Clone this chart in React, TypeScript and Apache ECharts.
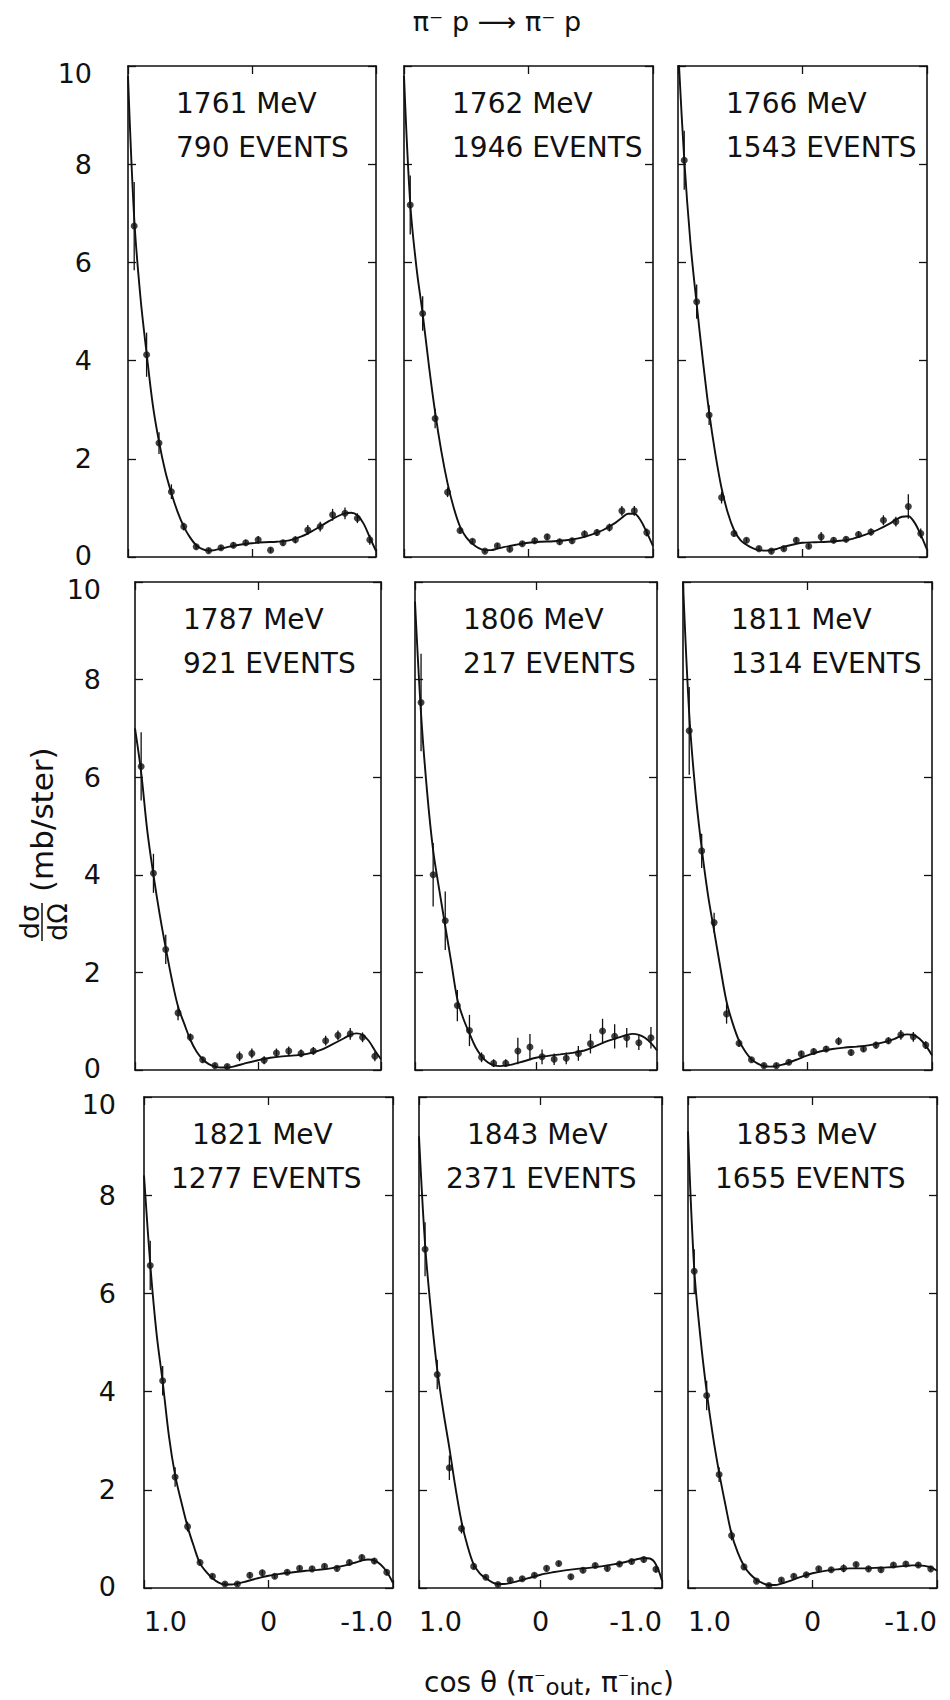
import React, { useEffect, useRef } from "react";
import * as echarts from "echarts";

// ---------- data ----------
const ENERGIES = ["1761", "1762", "1766", "1787", "1806", "1811", "1821", "1843", "1853"];
const EVENTS = ["790", "1946", "1543", "921", "217", "1314", "1277", "2371", "1655"];

// cos(theta) bin centres of the measured points
const COS_BINS = [0.95, 0.85, 0.75, 0.65, 0.55, 0.45, 0.35, 0.25, 0.15, 0.05, -0.05, -0.15, -0.25, -0.35, -0.45, -0.55, -0.65, -0.75, -0.85, -0.95];
// cos(theta) positions where the fitted curve was read
const FIT_X = [1.0, 0.95, 0.9, 0.85, 0.8, 0.75, 0.7, 0.65, 0.6, 0.55, 0.5, 0.45, 0.4, 0.35, 0.3, 0.25, 0.2, 0.1, 0, -0.1, -0.2, -0.3, -0.4, -0.5, -0.6, -0.7, -0.75, -0.8, -0.85, -0.9, -0.95, -1.0];

const X_MIN = -1;
const X_MAX = 1;
const X_STEP = 1;
const Y_MIN = 0;
const Y_MAX = 10;
const Y_STEP = 2;

const P1761 = [6.74, 4.12, 2.32, 1.33, 0.62, 0.21, 0.13, 0.19, 0.24, 0.29, 0.35, 0.14, 0.29, 0.35, 0.55, 0.62, 0.86, 0.89, 0.79, 0.35];
const E1761 = [0.9, 0.45, 0.22, 0.15, 0.08, 0.05, 0.05, 0.05, 0.06, 0.06, 0.08, 0.05, 0.06, 0.07, 0.1, 0.1, 0.12, 0.12, 0.1, 0.1];
const F1761 = [9.8, 6.9, 5.3, 4.15, 3.1, 2.35, 1.75, 1.3, 0.92, 0.62, 0.4, 0.24, 0.16, 0.13, 0.14, 0.17, 0.2, 0.25, 0.28, 0.3, 0.31, 0.34, 0.42, 0.55, 0.7, 0.84, 0.89, 0.9, 0.85, 0.68, 0.4, 0.12];

const P1762 = [7.17, 4.96, 2.82, 1.32, 0.54, 0.32, 0.12, 0.23, 0.16, 0.27, 0.33, 0.41, 0.31, 0.33, 0.47, 0.5, 0.6, 0.94, 0.94, 0.5];
const E1762 = [0.6, 0.35, 0.2, 0.1, 0.06, 0.05, 0.04, 0.05, 0.05, 0.05, 0.06, 0.06, 0.06, 0.06, 0.07, 0.07, 0.08, 0.1, 0.1, 0.08];
const F1762 = [9.8, 7.2, 5.9, 4.95, 3.9, 2.95, 2.15, 1.5, 1.0, 0.62, 0.4, 0.27, 0.18, 0.14, 0.14, 0.17, 0.2, 0.25, 0.29, 0.31, 0.32, 0.34, 0.38, 0.45, 0.55, 0.7, 0.8, 0.88, 0.88, 0.75, 0.5, 0.22];

const P1766 = [8.08, 5.2, 2.89, 1.21, 0.48, 0.34, 0.17, 0.12, 0.17, 0.34, 0.22, 0.41, 0.34, 0.36, 0.46, 0.51, 0.75, 0.72, 1.03, 0.48];
const E1766 = [0.6, 0.35, 0.2, 0.12, 0.06, 0.05, 0.05, 0.05, 0.05, 0.06, 0.05, 0.1, 0.06, 0.06, 0.07, 0.07, 0.1, 0.1, 0.25, 0.1];
const F1766 = [10.4, 8.1, 6.4, 5.15, 4.0, 2.95, 2.1, 1.4, 0.9, 0.55, 0.35, 0.25, 0.18, 0.14, 0.13, 0.14, 0.17, 0.24, 0.29, 0.3, 0.31, 0.33, 0.37, 0.45, 0.55, 0.68, 0.76, 0.82, 0.83, 0.7, 0.45, 0.15];

const P1787 = [6.22, 4.03, 2.47, 1.17, 0.67, 0.21, 0.09, 0.07, 0.28, 0.34, 0.2, 0.35, 0.39, 0.34, 0.39, 0.6, 0.71, 0.74, 0.67, 0.28];
const E1787 = [0.7, 0.4, 0.3, 0.15, 0.08, 0.06, 0.05, 0.05, 0.1, 0.1, 0.08, 0.09, 0.09, 0.08, 0.08, 0.1, 0.1, 0.12, 0.1, 0.1];
const F1787 = [7.0, 6.1, 4.9, 4.0, 3.2, 2.5, 1.85, 1.3, 0.95, 0.62, 0.38, 0.22, 0.12, 0.07, 0.05, 0.05, 0.07, 0.14, 0.2, 0.25, 0.28, 0.3, 0.33, 0.4, 0.52, 0.65, 0.72, 0.75, 0.72, 0.6, 0.4, 0.22];

const P1806 = [7.53, 4.0, 3.06, 1.32, 0.81, 0.26, 0.14, 0.14, 0.39, 0.47, 0.27, 0.22, 0.24, 0.34, 0.54, 0.8, 0.69, 0.66, 0.56, 0.66];
const E1806 = [1.0, 0.65, 0.6, 0.32, 0.32, 0.1, 0.08, 0.08, 0.27, 0.27, 0.15, 0.12, 0.12, 0.15, 0.2, 0.25, 0.25, 0.2, 0.15, 0.22];
const F1806 = [9.6, 7.3, 5.7, 4.5, 3.7, 2.95, 2.2, 1.45, 1.05, 0.75, 0.47, 0.28, 0.16, 0.1, 0.08, 0.09, 0.11, 0.18, 0.25, 0.29, 0.32, 0.35, 0.4, 0.5, 0.6, 0.68, 0.72, 0.74, 0.72, 0.66, 0.55, 0.4];

const P1811 = [6.95, 4.49, 3.02, 1.15, 0.55, 0.21, 0.09, 0.09, 0.16, 0.33, 0.38, 0.43, 0.59, 0.36, 0.43, 0.51, 0.6, 0.72, 0.68, 0.51];
const E1811 = [0.9, 0.35, 0.2, 0.2, 0.08, 0.05, 0.05, 0.05, 0.05, 0.06, 0.06, 0.06, 0.08, 0.06, 0.06, 0.07, 0.07, 0.1, 0.1, 0.08];
const F1811 = [10.0, 7.3, 5.7, 4.55, 3.6, 2.85, 2.1, 1.4, 0.95, 0.6, 0.38, 0.22, 0.13, 0.08, 0.07, 0.08, 0.11, 0.2, 0.3, 0.38, 0.43, 0.46, 0.48, 0.51, 0.56, 0.64, 0.7, 0.73, 0.72, 0.64, 0.5, 0.3];

const P1821 = [6.57, 4.22, 2.26, 1.25, 0.52, 0.24, 0.08, 0.08, 0.26, 0.31, 0.24, 0.32, 0.4, 0.39, 0.44, 0.4, 0.52, 0.62, 0.55, 0.32];
const E1821 = [0.5, 0.3, 0.2, 0.1, 0.06, 0.05, 0.04, 0.04, 0.06, 0.06, 0.05, 0.05, 0.05, 0.05, 0.05, 0.05, 0.06, 0.06, 0.06, 0.06];
const F1821 = [8.4, 6.6, 5.2, 4.2, 3.1, 2.3, 1.75, 1.25, 0.85, 0.5, 0.33, 0.2, 0.11, 0.07, 0.07, 0.09, 0.12, 0.19, 0.25, 0.29, 0.32, 0.35, 0.37, 0.4, 0.45, 0.52, 0.56, 0.58, 0.56, 0.48, 0.33, 0.1];

const P1843 = [6.9, 4.35, 2.45, 1.21, 0.44, 0.22, 0.07, 0.16, 0.19, 0.26, 0.4, 0.5, 0.23, 0.36, 0.46, 0.4, 0.49, 0.54, 0.58, 0.38];
const E1843 = [0.55, 0.3, 0.25, 0.1, 0.06, 0.04, 0.04, 0.04, 0.05, 0.05, 0.05, 0.05, 0.05, 0.05, 0.05, 0.05, 0.05, 0.05, 0.06, 0.06];
const F1843 = [9.2, 7.0, 5.6, 4.45, 3.6, 2.85, 2.05, 1.35, 0.85, 0.48, 0.3, 0.2, 0.12, 0.08, 0.08, 0.1, 0.13, 0.2, 0.27, 0.32, 0.36, 0.39, 0.41, 0.44, 0.48, 0.53, 0.56, 0.59, 0.61, 0.6, 0.48, 0.15];

const P1853 = [6.45, 3.92, 2.31, 1.07, 0.43, 0.14, 0.05, 0.16, 0.24, 0.27, 0.39, 0.37, 0.4, 0.48, 0.39, 0.37, 0.47, 0.49, 0.47, 0.39];
const E1853 = [0.45, 0.3, 0.15, 0.1, 0.06, 0.04, 0.04, 0.04, 0.05, 0.05, 0.05, 0.05, 0.08, 0.05, 0.05, 0.05, 0.05, 0.05, 0.05, 0.05];
const F1853 = [9.3, 6.5, 5.1, 4.0, 3.1, 2.35, 1.7, 1.1, 0.72, 0.45, 0.28, 0.17, 0.1, 0.06, 0.06, 0.09, 0.13, 0.22, 0.3, 0.35, 0.38, 0.4, 0.4, 0.41, 0.42, 0.44, 0.45, 0.46, 0.46, 0.45, 0.42, 0.35];

const POINTS = [P1761, P1762, P1766, P1787, P1806, P1811, P1821, P1843, P1853];
const ERRORS = [E1761, E1762, E1766, E1787, E1806, E1811, E1821, E1843, E1853];
const FITS = [F1761, F1762, F1766, F1787, F1806, F1811, F1821, F1843, F1853];

// ---------- layout (pixels) ----------
// [left, right, top, bottom] of each panel frame
const BOXES: number[][] = [
  [128, 376, 66, 557], [404, 653, 66, 557], [678, 927, 66, 557],
  [135, 381, 582, 1070], [415, 657, 582, 1070], [683, 932, 582, 1070],
  [144, 393, 1097, 1588], [419, 662, 1097, 1588], [688, 937, 1097, 1588],
];
const Y_LABEL_MARGIN = [36, 34, 28];

const FONT = "DejaVu Sans";
const INK = "#111";

function xLabel(v: number) {
  if (v === 1) return "1.0";
  if (v === 0) return "0";
  return "-1.0";
}

function yLabel(v: number) {
  if (v === Y_MAX) return "{t|" + v + "}";
  if (v === Y_MIN) return "{z|" + v + "}";
  return "{m|" + v + "}";
}

function buildOption() {
  const grid: any[] = [];
  const xAxis: any[] = [];
  const yAxis: any[] = [];
  const series: any[] = [];
  const elements: any[] = [];

  const axisLine = { show: true, onZero: false, lineStyle: { color: INK, width: 1.6 } };
  const axisTick = { show: true, inside: true, length: 8, lineStyle: { color: INK, width: 1.3 } };
  const lbl = { fontFamily: FONT, fontSize: 27, color: INK };

  ENERGIES.forEach((energy, i) => {
    const [l, r, t, b] = BOXES[i];
    const row = Math.floor(i / 3);
    const col = i % 3;
    grid.push({ left: l, top: t, width: r - l, height: b - t });

    const xBase = {
      type: "value", gridIndex: i, min: X_MIN, max: X_MAX, interval: X_STEP, inverse: true,
      axisLine, axisTick, splitLine: { show: false },
    };
    xAxis.push({
      ...xBase, position: "bottom",
      axisLabel: row === 2
        ? {
            show: true, formatter: xLabel, fontFamily: FONT, fontSize: 27, color: INK, margin: 20,
            showMinLabel: true, showMaxLabel: true, alignMaxLabel: "left", alignMinLabel: "right",
          }
        : { show: false },
    });
    xAxis.push({ ...xBase, position: "top", axisLabel: { show: false } });

    const yBase = {
      type: "value", gridIndex: i, min: Y_MIN, max: Y_MAX, interval: Y_STEP,
      axisLine, axisTick, splitLine: { show: false },
    };
    yAxis.push({
      ...yBase, position: "left",
      axisLabel: col === 0
        ? {
            show: true, ...lbl, margin: Y_LABEL_MARGIN[row], showMinLabel: true, showMaxLabel: true,
            formatter: yLabel,
            rich: {
              t: { ...lbl, padding: [14, 0, 0, 0] },
              z: { ...lbl, padding: [0, 0, 4, 0] },
              m: { ...lbl },
            },
          }
        : { show: false },
    });
    yAxis.push({ ...yBase, position: "right", axisLabel: { show: false } });

    const fit = FITS[i].map((y, k) => [FIT_X[k], y]);
    const pts = POINTS[i].map((y, k) => [COS_BINS[k], y, ERRORS[i][k]]);

    series.push({
      type: "line", name: energy + " fit", xAxisIndex: 2 * i, yAxisIndex: 2 * i,
      data: fit, smooth: 0.35, showSymbol: false, symbol: "none", clip: true,
      lineStyle: { color: INK, width: 1.9 }, z: 2,
    });
    series.push({
      type: "custom", name: energy + " errors", xAxisIndex: 2 * i, yAxisIndex: 2 * i,
      data: pts, encode: { x: 0, y: 1 }, z: 3,
      renderItem: (params: any, api: any) => {
        const x = api.value(0);
        const y = api.value(1);
        const e = api.value(2);
        const p1 = api.coord([x, y + e]);
        const p2 = api.coord([x, Math.max(0, y - e)]);
        return {
          type: "line",
          shape: { x1: p1[0], y1: p1[1], x2: p2[0], y2: p2[1] },
          style: { stroke: INK, lineWidth: 1.3 },
        };
      },
    });
    series.push({
      type: "scatter", name: energy + " data", xAxisIndex: 2 * i, yAxisIndex: 2 * i,
      data: pts.map((p) => [p[0], p[1]]), symbol: "circle", symbolSize: 7,
      itemStyle: { color: INK }, z: 4,
    });

    // panel labels
    const tx1 = l + 48;
    const tx2 = row === 2 ? l + 27 : l + 48;
    elements.push({
      type: "text", x: tx1, y: t + 37,
      style: { text: energy + " MeV", fontFamily: FONT, fontSize: 28, fill: INK, textAlign: "left", textVerticalAlign: "middle", align: "left", verticalAlign: "middle" },
    });
    elements.push({
      type: "text", x: tx2, y: t + 81,
      style: { text: EVENTS[i] + " EVENTS", fontFamily: FONT, fontSize: 28, fill: INK, textAlign: "left", textVerticalAlign: "middle", align: "left", verticalAlign: "middle" },
    });
  });

  // reaction title
  elements.push({
    type: "text", x: 497, y: 21,
    style: { text: "π⁻ p ⟶ π⁻ p", fontFamily: FONT, fontSize: 27, fill: INK, textAlign: "center", textVerticalAlign: "middle", align: "center", verticalAlign: "middle" },
  });

  // y-axis name (rotated)
  elements.push({
    type: "group", x: 42, y: 840, rotation: Math.PI / 2,
    children: [
      { type: "text", x: -82, y: -13, style: { text: "dσ", fontFamily: FONT, fontSize: 27, fill: INK, textAlign: "center", textVerticalAlign: "middle", align: "center", verticalAlign: "middle" } },
      { type: "line", shape: { x1: -101, y1: 0, x2: -63, y2: 0 }, style: { stroke: INK, lineWidth: 1.5 } },
      { type: "text", x: -82, y: 15, style: { text: "dΩ", fontFamily: FONT, fontSize: 27, fill: INK, textAlign: "center", textVerticalAlign: "middle", align: "center", verticalAlign: "middle" } },
      { type: "text", x: -52, y: 0, style: { text: "(mb/ster)", fontFamily: FONT, fontSize: 31, fill: INK, textAlign: "left", textVerticalAlign: "middle", align: "left", verticalAlign: "middle" } },
    ],
  });

  // x-axis name
  elements.push({
    type: "text", x: 549, y: 1683,
    style: {
      text: "{n|cos θ (π}{s|⁻}{b|out}{n|, π}{s|⁻}{b|inc}{n|)}",
      fontFamily: FONT, fill: INK, textAlign: "center", textVerticalAlign: "middle", align: "center", verticalAlign: "middle",
      rich: {
        n: { fontFamily: FONT, fontSize: 28, lineHeight: 30, verticalAlign: "top", fill: INK },
        s: { fontFamily: FONT, fontSize: 22, lineHeight: 30, verticalAlign: "top", fill: INK },
        b: { fontFamily: FONT, fontSize: 23, lineHeight: 23, padding: [16, 0, 0, 0], verticalAlign: "bottom", fill: INK },
      },
    },
  });

  return {
    animation: false,
    backgroundColor: "#ffffff",
    grid, xAxis, yAxis, series,
    graphic: { elements },
  };
}

export default function App() {
  const ref = useRef<HTMLDivElement>(null);
  useEffect(() => {
    if (!ref.current) return;
    const chart = echarts.init(ref.current, undefined, { renderer: "svg" });
    chart.setOption(buildOption() as any);
    return () => chart.dispose();
  }, []);
  return (
    <div
      ref={ref}
      style={{ position: "absolute", left: 0, top: 0, width: 950, height: 1700, background: "#fff" }}
    />
  );
}
